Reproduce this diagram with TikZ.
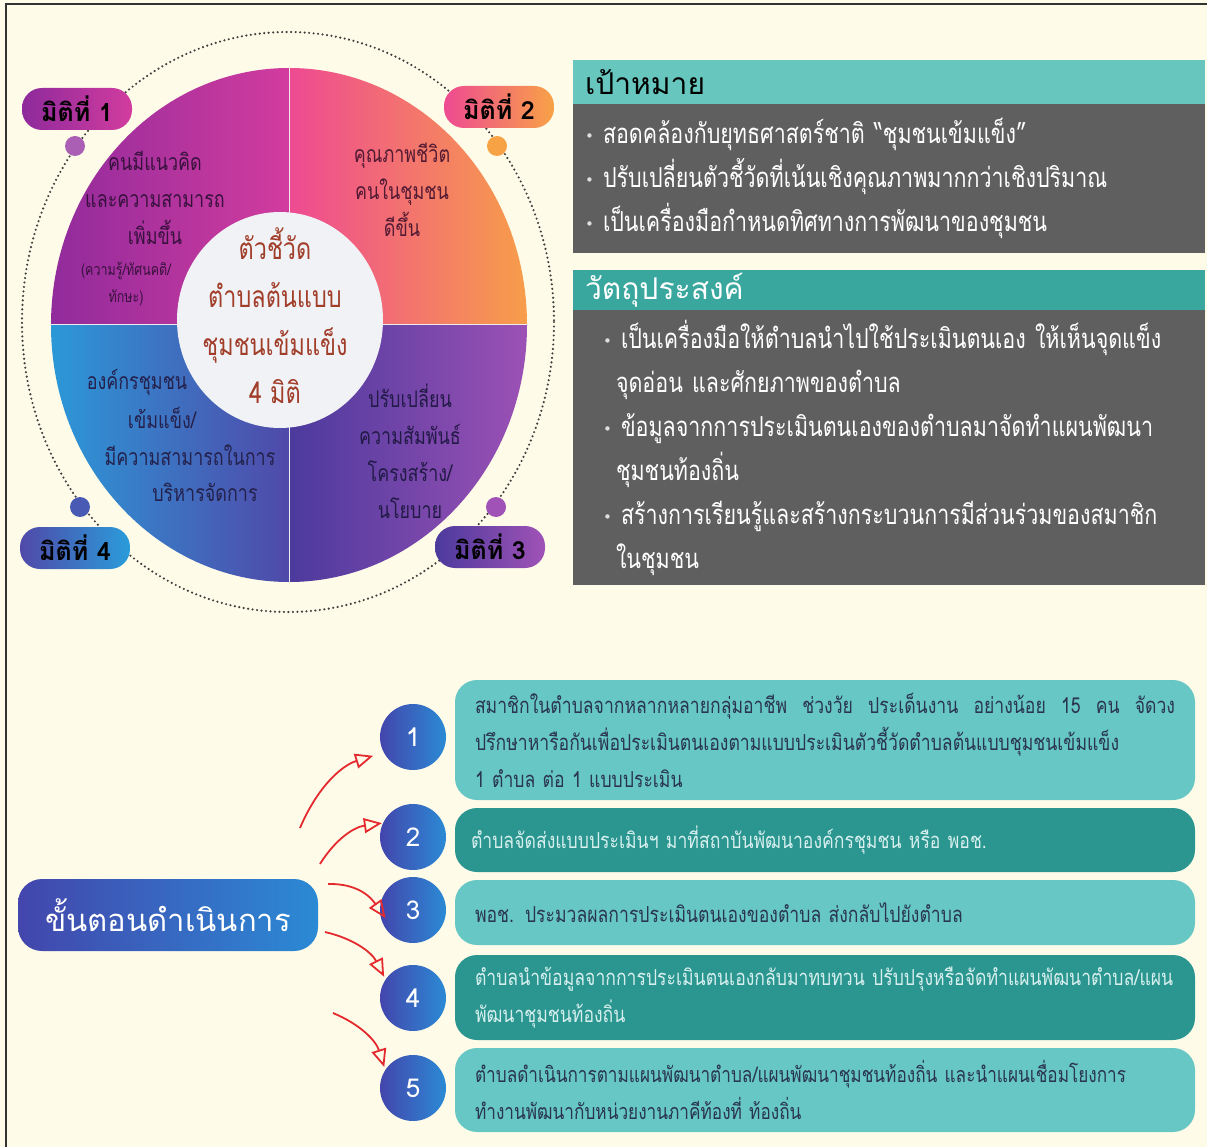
\documentclass[tikz,border=0pt]{standalone}
\usepackage{fontspec}
\setmainfont{Liberation Sans}
\newfontfamily\thai[Script=Thai]{Loma}
\newfontfamily\thainarrow[Script=Thai,FakeStretch=0.78]{Loma}
\newfontfamily\thaislim[Script=Thai,FakeStretch=0.8]{Loma}
\newfontfamily\dotfont{DejaVu Sans}
\usetikzlibrary{shapes,arrows.meta,positioning}

\definecolor{bgcream}{HTML}{FEFCE9}
\definecolor{qonea}{HTML}{8E2A9C}
\definecolor{qoneb}{HTML}{D23C9E}
\definecolor{qtwoa}{HTML}{EE4A92}
\definecolor{qtwob}{HTML}{F8A246}
\definecolor{qthreea}{HTML}{4C3A9D}
\definecolor{qthreeb}{HTML}{A052B6}
\definecolor{qfoura}{HTML}{2A9CDA}
\definecolor{qfourb}{HTML}{5049A9}
\definecolor{corefill}{HTML}{F1F2F6}
\definecolor{coretext}{HTML}{A13E2A}
\definecolor{tealhead}{HTML}{67C6BE}
\definecolor{tealhd}{HTML}{3AA79F}
\definecolor{slate}{HTML}{5F5F5F}
\definecolor{steplight}{HTML}{66C7C5}
\definecolor{stepdark}{HTML}{2B9690}
\definecolor{stepink}{HTML}{2A3550}
\definecolor{steppale}{HTML}{D6EFEE}
\definecolor{numa}{HTML}{4346AC}
\definecolor{numb}{HTML}{2B8AD5}
\definecolor{arrowred}{HTML}{E42A2E}

\newcommand{\fsz}[2]{\fontsize{#1}{#2}\selectfont}
\newcommand{\blt}{{\dotfont\fsz{15}{15}\raisebox{2pt}{\textcolor{white!75!gray}{•}}}}

\begin{document}
\begin{tikzpicture}[x=1pt,y=-1pt,
	miti/.style={rectangle, rounded corners=20pt, minimum width=110pt, minimum height=42pt, inner sep=0pt, font=\thai\bfseries\fsz{25}{28}},
	mitidot/.style={circle, minimum size=20pt, inner sep=0pt},
	qtext/.style={align=center, inner sep=0pt, font=\thainarrow\fsz{23}{37}},
	headbar/.style={rectangle, minimum width=632pt, inner xsep=12pt, text width=608pt, align=left},
	stepbox/.style={rectangle, rounded corners=22pt, minimum width=740pt, inner xsep=20pt, text width=700pt, align=left, font=\thaislim\fsz{22}{37}},
	stepnum/.style={circle, minimum size=66pt, inner sep=0pt, left color=numa, right color=numb, text=white, font=\thai\fsz{26}{28}},
	redarr/.style={draw=arrowred, line width=1.8pt, -{Triangle[open, length=18pt, width=15pt, line width=1.8pt]}}]

	% page and frame
	\fill [bgcream] (0,0) rectangle (1207,1147);
	\useasboundingbox (0,0) rectangle (1207,1147);
	\draw [line width=2.5pt, black!80] (6,1147) -- (6,4) -- (1207,4);

	% the four dimensions
	\draw [line width=2.4pt, black!75, line cap=round, dash pattern=on 0pt off 4.5pt] (288,322) ellipse [x radius=266, y radius=290];
	\begin{scope}
		\clip (289,325) ellipse [x radius=238, y radius=257];
		\shade [left color=qonea, right color=qoneb] (40,60) rectangle (289,325);
		\shade [left color=qtwoa, right color=qtwob] (289,60) rectangle (540,325);
		\shade [left color=qthreea, right color=qthreeb] (289,325) rectangle (540,590);
		\shade [left color=qfoura, right color=qfourb] (40,325) rectangle (289,590);
		\draw [white!85!gray, line width=1pt] (289,60) -- (289,590);
		\draw [white!85!gray, line width=1pt] (40,325) -- (540,325);
	\end{scope}
	\fill [corefill] (280,320) ellipse [x radius=103, y radius=108];

	\node [align=center, inner sep=0pt, text=coretext, font=\thainarrow\fsz{30}{48}] (core) at (275,316) {ตัวชี้วัด\\ตำบลต้นแบบ\\ชุมชนเข้มแข็ง\\4 มิติ};
	\node [qtext, text=qonea!40!black] (qone) at (155,198) {คนมีแนวคิด\\และความสามารถ\\เพิ่มขึ้น};
	\node [qtext, text=qonea!40!black, font=\thainarrow\fsz{16}{27}] (qonesub) at (126,284) {(ความรู้/ทัศนคติ/\\ทักษะ)};
	\node [qtext, text=qtwoa!35!black] (qtwo) at (402,190) {คุณภาพชีวิต\\คนในชุมชน\\ดีขึ้น};
	\node [qtext, text=qthreea!45!black] (qthree) at (410,451) {ปรับเปลี่ยน\\ความสัมพันธ์\\โครงสร้าง/\\นโยบาย};
	\node [qtext, text=qfourb!45!black] (qfoura) at (137,382) {องค์กรชุมชน};
	\node [qtext, text=qfourb!45!black] (qfourb) at (162,418) {เข้มแข็ง/};
	\node [qtext, text=qfourb!45!black] (qfourc) at (190,455) {มีความสามารถในการ};
	\node [qtext, text=qfourb!45!black] (qfourd) at (205,492) {บริหารจัดการ};

	\node [mitidot, fill=qonea!75!white] (done) at (75,146) {};
	\node [mitidot, fill=qtwob] (dtwo) at (497,146) {};
	\node [mitidot, fill=qthreeb] (dthree) at (496,507) {};
	\node [mitidot, fill=qfourb!80!qfoura] (dfour) at (80,507) {};
	\node [miti, left color=qonea, right color=qoneb] (mone) at (77,109) {มิติที่ 1};
	\node [miti, left color=qtwoa, right color=qtwob] (mtwo) at (499,107) {มิติที่ 2};
	\node [miti, left color=qthreea, right color=qthreeb] (mthree) at (490,547) {มิติที่ 3};
	\node [miti, left color=qfourb, right color=qfoura] (mfour) at (75,548) {มิติที่ 4};

	% goals and objectives
	\node [headbar, fill=tealhead, minimum height=44pt, font=\thai\fsz{30}{30}] (goalhd) at (889,82) {เป้าหมาย};
	\node [headbar, fill=slate, minimum height=149pt, text=white, font=\thainarrow\fsz{27.5}{44}] (goal) at (889,178.5)
		{\blt\ สอดคล้องกับยุทธศาสตร์ชาติ “ชุมชนเข้มแข็ง”\\
		 \blt\ ปรับเปลี่ยนตัวชี้วัดที่เน้นเชิงคุณภาพมากกว่าเชิงปริมาณ\\
		 \blt\ เป็นเครื่องมือกำหนดทิศทางการพัฒนาของชุมชน};
	\node [headbar, fill=tealhd, minimum height=40pt, text=white, font=\thai\fsz{30}{30}] (aimhd) at (889,290) {วัตถุประสงค์};
	\node [headbar, fill=slate, minimum height=275pt, inner xsep=30pt, text width=572pt, text=white, font=\thainarrow\fsz{27.5}{44}] (aim) at (889,447.5)
		{\blt\ เป็นเครื่องมือให้ตำบลนำไปใช้ประเมินตนเอง ให้เห็นจุดแข็ง\\
		 \hspace*{13pt}จุดอ่อน และศักยภาพของตำบล\\
		 \blt\ ข้อมูลจากการประเมินตนเองของตำบลมาจัดทำแผนพัฒนา\\
		 \hspace*{13pt}ชุมชนท้องถิ่น\\
		 \blt\ สร้างการเรียนรู้และสร้างกระบวนการมีส่วนร่วมของสมาชิก\\
		 \hspace*{13pt}ในชุมชน};

	% steps
	\node [rectangle, rounded corners=24pt, minimum width=300pt, minimum height=72pt, left color=numa, right color=numb, text=white, font=\thai\fsz{31}{36}] (steps) at (168,915) {ขั้นตอนดำเนินการ};

	\node [stepbox, fill=steplight, minimum height=120pt, text=stepink] (bone) at (825,740)
		{\makebox[700pt][l]{สมาชิกในตำบลจากหลากหลายกลุ่มอาชีพ\hfill ช่วงวัย\hfill ประเด็นงาน\hfill อย่างน้อย\hfill 15\hfill คน\hfill จัดวง}\\
		 ปรึกษาหารือกันเพื่อประเมินตนเองตามแบบประเมินตัวชี้วัดตำบลต้นแบบชุมชนเข้มแข็ง\\
		 1 ตำบล ต่อ 1 แบบประเมิน};
	\node [stepbox, fill=stepdark, minimum height=64pt, text=steppale, inner xsep=16pt, text width=708pt] (btwo) at (825,840)
		{ตำบลจัดส่งแบบประเมินฯ มาที่สถาบันพัฒนาองค์กรชุมชน หรือ พอช.};
	\node [stepbox, fill=steplight, minimum height=65pt, text=stepink] (bthree) at (825,912.5)
		{พอช. ประมวลผลการประเมินตนเองของตำบล ส่งกลับไปยังตำบล};
	\node [stepbox, fill=stepdark, minimum height=85pt, text=steppale] (bfour) at (825,997.5)
		{ตำบลนำข้อมูลจากการประเมินตนเองกลับมาทบทวน ปรับปรุงหรือจัดทำแผนพัฒนาตำบล/แผน\\
		 พัฒนาชุมชนท้องถิ่น};
	\node [stepbox, fill=steplight, minimum height=84pt, text=stepink, font=\thaislim\fsz{21.5}{37}] (bfive) at (825,1090)
		{ตำบลดำเนินการตามแผนพัฒนาตำบล/แผนพัฒนาชุมชนท้องถิ่น และนำแผนเชื่อมโยงการ\\
		 ทำงานพัฒนากับหน่วยงานภาคีท้องที่ ท้องถิ่น};

	\node [stepnum] (cone) at (413,737) {1};
	\node [stepnum] (ctwo) at (413,837) {2};
	\node [stepnum] (cthree) at (413,910) {3};
	\node [stepnum] (cfour) at (413,998) {4};
	\node [stepnum] (cfive) at (413,1088) {5};

	\coordinate (aone) at (300,828);
	\coordinate (atwo) at (320,864);
	\coordinate (athree) at (328,884);
	\coordinate (afour) at (325,932);
	\coordinate (afive) at (333,1013);
	\path (aone) edge [redarr, bend left=25, shorten >=11pt] (cone.208);
	\path (atwo) edge [redarr, bend left=25, shorten >=1pt] (ctwo.155);
	\path (athree) edge [redarr, bend left=28, shorten >=-10pt] (cthree.west);
	\path (afour) edge [redarr, bend left=25, shorten >=3pt] (cfour.146);
	\path (afive) edge [redarr, bend left=25, shorten >=3pt] (cfive.147);
\end{tikzpicture}
\end{document}
